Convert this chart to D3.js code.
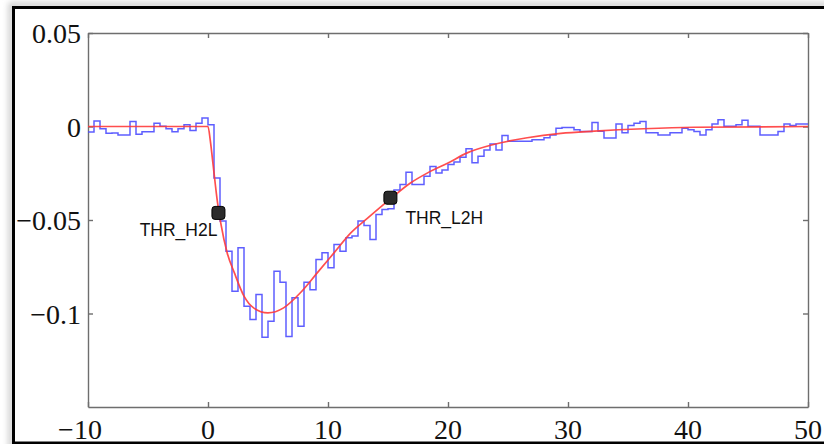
<!DOCTYPE html>
<html>
<head>
<meta charset="utf-8">
<script src="https://cdn.jsdelivr.net/npm/d3@7"></script>
<style>
  html, body { margin: 0; padding: 0; background: #fff; }
  svg { display: block; }
  .tick-label { font-family: "Liberation Serif", "DejaVu Serif", serif; font-size: 28px; fill: #111; }
  .thr-label { font-family: "Liberation Sans", Arial, sans-serif; font-size: 17.5px; fill: #111; }
</style>
</head>
<body>
<div id="chart"></div>
<script>
// histogram (blue), bins of 0.5 starting at -10
var binStart = -10;
var binWidth = 0.5;
var binValues = [
  -0.003, 0.003, -0.0012, -0.0036, -0.0035, -0.0045, -0.0045, 0.0027, -0.0042, -0.0028,
  -0.0028, 0.0018, 0.0002, -0.0012, -0.0028, -0.0012, 0.001, -0.0022, 0.0018, 0.0046,
  0.001, -0.0275, -0.0506, -0.0667, -0.0881, -0.0649, -0.0961, -0.1032, -0.0898, -0.1127,
  -0.1041, -0.0774, -0.0833, -0.1123, -0.0916, -0.1068, -0.0833, -0.0873, -0.0711, -0.0675,
  -0.0756, -0.0631, -0.0667, -0.0595, -0.0585, -0.0506, -0.053, -0.0604, -0.047, -0.0444,
  -0.044, -0.034, -0.031, -0.0244, -0.031, -0.031, -0.0266, -0.0214, -0.0248, -0.0232,
  -0.0203, -0.019, -0.0165, -0.0119, -0.0194, -0.0159, -0.0125, -0.0093, -0.0125, -0.0048,
  -0.0079, -0.0079, -0.0079, -0.0079, -0.0071, -0.0071, -0.006, -0.0045, -0.0009, -0.0005,
  -0.0005, -0.0018, -0.0027, -0.0027, 0.0022, -0.0025, -0.0061, -0.0061, 0.0013, -0.0034,
  0.0005, 0.0018, 0.0027, -0.0034, -0.0034, -0.0045, -0.0045, -0.0034, -0.0034, -0.0009,
  -0.0018, -0.0027, -0.0045, -0.0018, 0.0014, 0.0036, 0.0002, 0.0002, 0.001, 0.0034,
  0.0002, 0.0002, -0.0045, -0.0045, -0.0045, -0.0027, 0.0014, 0.0005, 0.0014, 0.0014
];

// fitted curve (red)
var fitX = [-10, 0, 0.2, 0.4, 0.8, 1.06, 1.6, 2.2, 3.0, 3.8, 5.0, 6.3, 7.7, 9.1, 10.5, 11.9,
  13.3, 15.2, 16.9, 18.3, 20, 21.6, 23.8, 26.6, 29.4, 32.2, 36.3, 40.5, 50];
var fitY = [0, 0, -0.008, -0.019, -0.041, -0.0515, -0.0676, -0.0783, -0.0907, -0.097, -0.0997,
  -0.097, -0.0889, -0.0783, -0.0676, -0.0569, -0.049, -0.0387, -0.0301, -0.0248, -0.0195,
  -0.0141, -0.0096, -0.006, -0.0037, -0.0025, -0.0012, -0.0004, 0];

// threshold markers
var thrNames = ['THR_H2L', 'THR_L2H'];
var thrX = [0.87, 15.2];
var thrY = [-0.0462, -0.0381];

var xTicks = [-10, 0, 10, 20, 30, 40, 50];
var yTicks = [0.05, 0, -0.05, -0.1];

var width = 824, height = 444;
var plot = { left: 88, top: 33, right: 808, bottom: 407 };

var svg = d3.select('#chart')
    .append('svg')
    .attr('width', width)
    .attr('height', height);

// outer frame with a soft shadow
var defs = svg.append('defs');
var blur = defs.append('filter')
    .attr('id', 'shadow')
    .attr('x', '-5%').attr('y', '-5%')
    .attr('width', '110%').attr('height', '110%');
blur.append('feGaussianBlur').attr('stdDeviation', 3);

defs.append('clipPath')
    .attr('id', 'plot-clip')
    .append('rect')
    .attr('x', plot.left)
    .attr('y', plot.top)
    .attr('width', plot.right - plot.left)
    .attr('height', plot.bottom - plot.top);

svg.append('rect')
    .attr('x', 11).attr('y', 5)
    .attr('width', 840).attr('height', 450)
    .style('fill', 'none')
    .style('stroke', '#bbb')
    .style('stroke-width', 4)
    .attr('filter', 'url(#shadow)');

svg.append('rect')
    .attr('x', 13.5).attr('y', 7.5)
    .attr('width', 830).attr('height', 435.5)
    .style('fill', '#fff')
    .style('stroke', '#000')
    .style('stroke-width', 3);

var x = d3.scaleLinear().domain([-10, 50]).range([plot.left, plot.right]);
var y = d3.scaleLinear().domain([-0.15, 0.05]).range([plot.bottom, plot.top]);

// axes: ticks on all four sides, pointing inward
function styleAxis(g) {
    g.selectAll('path, line').style('stroke', '#6e6e6e').style('stroke-width', 1.4);
    g.selectAll('text').remove();
}

svg.append('g')
    .attr('transform', 'translate(0,' + plot.bottom + ')')
    .call(d3.axisBottom(x).tickValues(xTicks).tickSize(-5).tickSizeOuter(0))
    .call(styleAxis);
svg.append('g')
    .attr('transform', 'translate(0,' + plot.top + ')')
    .call(d3.axisTop(x).tickValues(xTicks).tickSize(-5).tickSizeOuter(0))
    .call(styleAxis);
svg.append('g')
    .attr('transform', 'translate(' + plot.left + ',0)')
    .call(d3.axisLeft(y).tickValues(yTicks).tickSize(-5).tickSizeOuter(0))
    .call(styleAxis);
svg.append('g')
    .attr('transform', 'translate(' + plot.right + ',0)')
    .call(d3.axisRight(y).tickValues(yTicks).tickSize(-5).tickSizeOuter(0))
    .call(styleAxis);

// tick labels
function fmt(v) {
    var s = String(Math.abs(v));
    return v < 0 ? '\u2212' + s : s;
}

svg.selectAll('.x-label')
    .data(xTicks)
    .enter().append('text')
    .attr('class', 'tick-label x-label')
    .attr('x', function(d) { return x(d) + (d < 0 ? -8 : 0); })
    .attr('y', 439)
    .style('text-anchor', 'middle')
    .text(fmt);

svg.selectAll('.y-label')
    .data(yTicks)
    .enter().append('text')
    .attr('class', 'tick-label y-label')
    .attr('x', 81)
    .attr('y', function(d) { return y(d) + 10; })
    .style('text-anchor', 'end')
    .text(fmt);

var chart = svg.append('g').attr('clip-path', 'url(#plot-clip)');

// histogram steps
var stepPoints = binValues.map(function(v, i) { return [binStart + i * binWidth, v]; });
stepPoints.push([binStart + binValues.length * binWidth, binValues[binValues.length - 1]]);

chart.append('path')
    .datum(stepPoints)
    .attr('d', d3.line()
        .x(function(d) { return x(d[0]); })
        .y(function(d) { return y(d[1]); })
        .curve(d3.curveStepAfter))
    .style('fill', 'none')
    .style('stroke', '#4d4dff')
    .style('stroke-width', 1.5)
    .style('stroke-opacity', 0.9);

// fit curve
var fitPoints = fitX.map(function(v, i) { return [v, fitY[i]]; });

chart.append('path')
    .datum(fitPoints)
    .attr('d', d3.line()
        .x(function(d) { return x(d[0]); })
        .y(function(d) { return y(d[1]); })
        .curve(d3.curveMonotoneX))
    .style('fill', 'none')
    .style('stroke', '#ff3b3b')
    .style('stroke-width', 1.7)
    .style('stroke-opacity', 0.9);

// threshold markers
var thr = thrNames.map(function(n, i) { return { name: n, x: thrX[i], y: thrY[i] }; });

svg.selectAll('.thr-marker')
    .data(thr)
    .enter().append('rect')
    .attr('class', 'thr-marker')
    .attr('x', function(d) { return x(d.x) - 6.5; })
    .attr('y', function(d) { return y(d.y) - 6.5; })
    .attr('width', 13)
    .attr('height', 13)
    .attr('rx', 3)
    .style('fill', '#2b2b2b')
    .style('stroke', '#000')
    .style('stroke-width', 1);

svg.selectAll('.thr-label')
    .data(thr)
    .enter().append('text')
    .attr('class', 'thr-label')
    .attr('x', function(d, i) { return i === 0 ? x(d.x) - 1 : x(d.x) + 15; })
    .attr('y', function(d, i) { return y(d.y) + (i === 0 ? 23 : 26); })
    .style('text-anchor', function(d, i) { return i === 0 ? 'end' : 'start'; })
    .text(function(d) { return d.name; });
</script>
</body>
</html>
